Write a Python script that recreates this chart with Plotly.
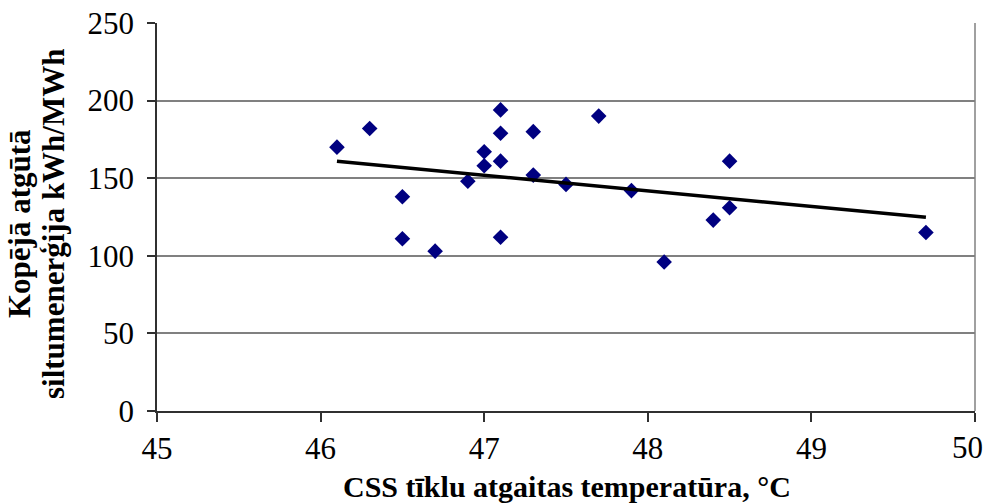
import numpy as np
import plotly.graph_objects as go

# Return temperature of the district heating network (°C)
temperature = [46.1, 46.3, 46.5, 46.5, 46.7, 46.9, 47.0, 47.0, 47.1, 47.1, 47.1,
               47.1, 47.3, 47.3, 47.5, 47.7, 47.9, 48.1, 48.4, 48.5, 48.5, 49.7]
# Total recovered heat energy (kWh/MWh)
recovered = [170, 182, 138, 111, 103, 148, 167, 158, 194, 179, 161,
             112, 180, 152, 146, 190, 142, 96, 123, 161, 131, 115]

x_ticks = [45, 46, 47, 48, 49, 50]
y_ticks = [0, 50, 100, 150, 200, 250]

x_title = "CSS tīklu atgaitas temperatūra, °C"
y_title_lines = ["Kopējā atgūtā", "siltumenerģija kWh/MWh"]

# Linear trend fitted over the observed range
slope, intercept = np.polyfit(temperature, recovered, 1)
trend_x = [min(temperature), max(temperature)]
trend_y = [slope * v + intercept for v in trend_x]

FONT = "Liberation Serif, Times New Roman, serif"

# plot area in pixels
L, R, T, B = 157, 975, 23, 411
W, H = 987, 504


def px_x(p):
    return (p - L) / (R - L)


def px_y(p):
    return (B - p) / (B - T)


# the last x label is placed separately, right-aligned near its tick,
# so that it stays inside the page
x_ticktext = [str(v) for v in x_ticks]
last_x_label = x_ticktext[-1]
x_ticktext[-1] = ""

fig = go.Figure()
fig.add_trace(go.Scatter(
    x=temperature, y=recovered, mode="markers",
    marker=dict(symbol="diamond", size=12, color="#000080", line=dict(width=0)),
    showlegend=False, cliponaxis=False,
))
fig.add_trace(go.Scatter(
    x=trend_x, y=trend_y, mode="lines",
    line=dict(color="black", width=3.5),
    showlegend=False,
))

annotations = [
    dict(text="<b>" + x_title + "</b>", xref="paper", yref="paper",
         x=px_x(567), y=px_y(486),
         xanchor="center", yanchor="middle", showarrow=False,
         font=dict(family=FONT, size=30, color="black")),
    dict(text=last_x_label, xref="x", yref="paper",
         x=x_ticks[-1], y=px_y(447), xshift=10,
         xanchor="right", yanchor="middle", showarrow=False,
         font=dict(family=FONT, size=31, color="black")),
]
for line, cx in zip(y_title_lines, [20, 54]):
    annotations.append(dict(
        text="<b>" + line + "</b>", xref="paper", yref="paper",
        x=px_x(cx), y=px_y(224),
        xanchor="center", yanchor="middle", showarrow=False, textangle=-90,
        font=dict(family=FONT, size=31, color="black")))

fig.update_layout(
    width=W, height=H,
    margin=dict(l=L, r=W - R, t=T, b=H - B, autoexpand=False),
    paper_bgcolor="white", plot_bgcolor="white",
    font=dict(family=FONT, size=31, color="black"),
    xaxis=dict(
        range=[45, 50], tickvals=x_ticks, ticktext=x_ticktext,
        showgrid=False, zeroline=False, automargin=False,
        showline=True, linecolor="#303030", linewidth=1.5,
        ticks="outside", ticklen=9, tickcolor="#303030", tickwidth=1.5,
        tickfont=dict(family=FONT, size=31, color="black"),
        ticklabeloverflow="allow",
    ),
    yaxis=dict(
        range=[0, 250], tickvals=y_ticks, ticktext=[str(v) for v in y_ticks],
        showgrid=True, gridcolor="#808080", gridwidth=1.5,
        zeroline=False, automargin=False,
        showline=True, linecolor="#303030", linewidth=1.5,
        ticks="outside", ticklen=8, tickcolor="#303030", tickwidth=1.5,
        tickfont=dict(family=FONT, size=31, color="black"),
        ticklabeloverflow="allow", ticklabelstandoff=7,
    ),
    shapes=[dict(type="line", xref="paper", yref="paper", x0=1, x1=1, y0=0, y1=1,
                 line=dict(color="#808080", width=1.5))],
    annotations=annotations,
)

fig.write_html("out.html")
